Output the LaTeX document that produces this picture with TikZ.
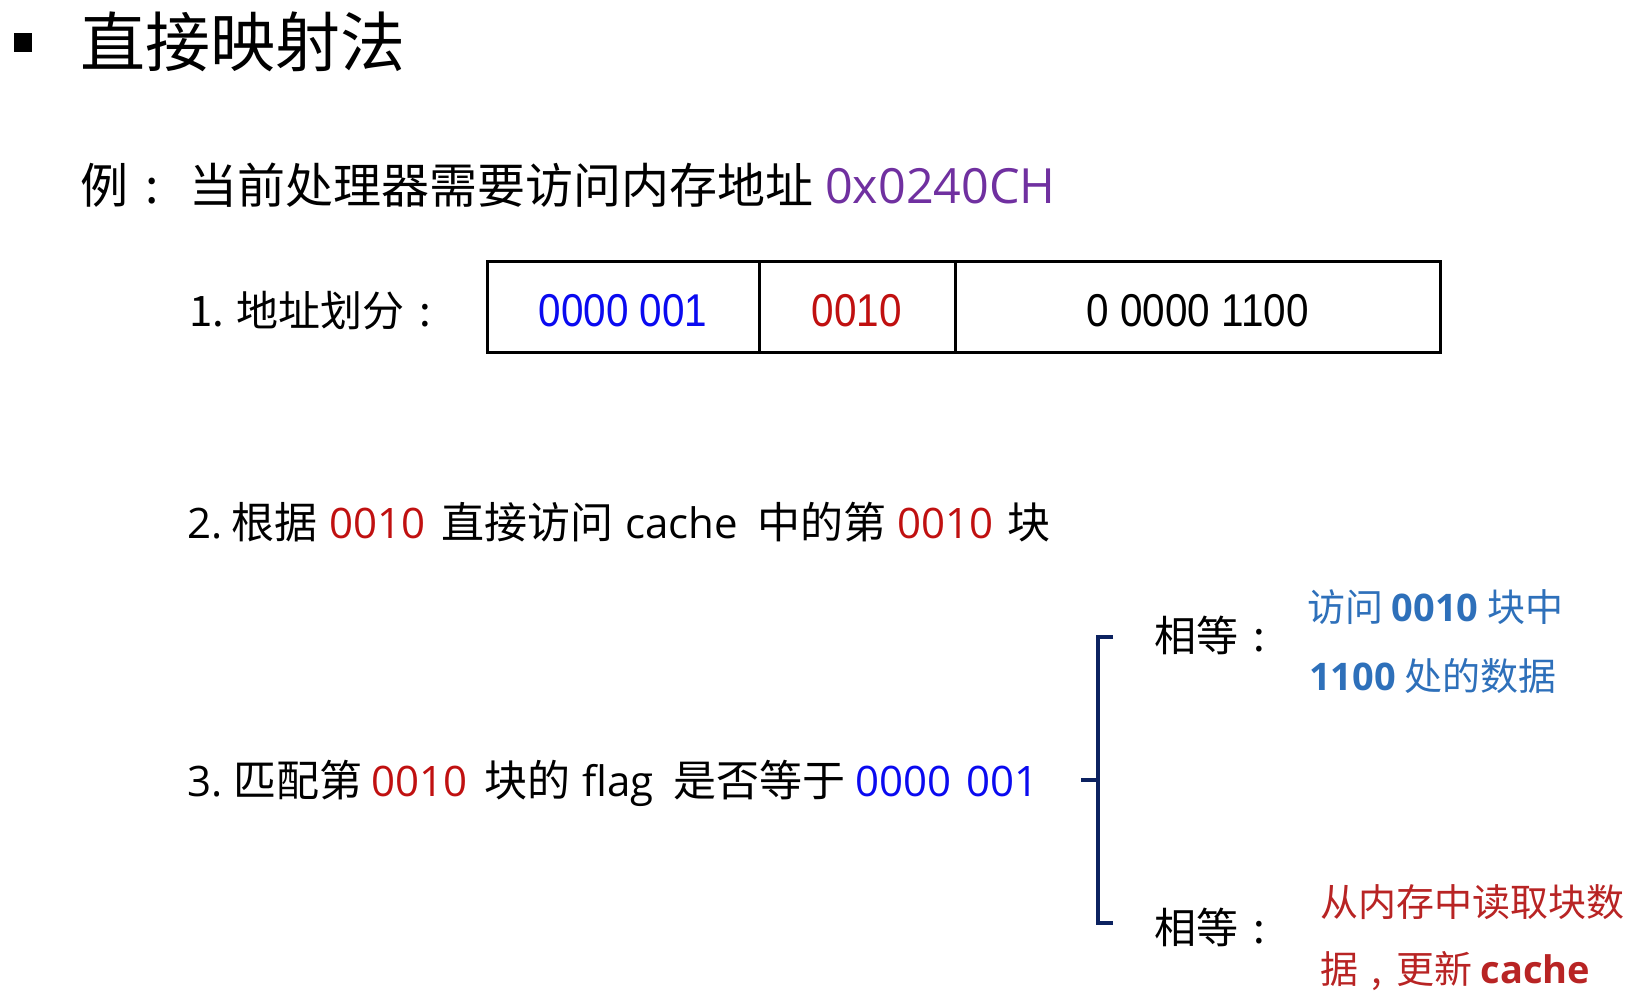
\documentclass[tikz,border=0pt]{standalone}
\usepackage{fontspec}
\setmainfont{Noto Sans CJK SC}
\newfontfamily\numfont[FakeStretch=0.88]{Liberation Sans}
\newfontfamily\latf{Open Sans}
\definecolor{cblue}{RGB}{10,10,240}
\definecolor{cred}{RGB}{192,16,16}
\definecolor{cpurple}{RGB}{112,48,160}
\definecolor{rblue}{RGB}{46,112,186}
\definecolor{rred}{RGB}{184,36,36}
\definecolor{navy}{RGB}{12,34,96}
\newcommand{\fsz}[1]{\fontsize{#1}{#1}\selectfont}
\newcommand{\ccolon}{\makebox[1em][c]{:}}
\newcommand{\ccomma}{\makebox[1em][c]{,}}
\begin{document}
\begin{tikzpicture}[x=1pt,y=-1pt,
  txt/.style={anchor=west,inner sep=0pt},
  bt/.style={anchor=base west,inner sep=0pt},
  cj/.style={bt,font=\fsz{43}},
  la/.style={bt,font=\latf\fsz{42}},
  cell/.style={draw,line width=3pt,outer sep=0pt,minimum height=90pt,inner sep=0pt,anchor=west,
    text height=39pt,text depth=0pt,font=\numfont\fsz{46}},
  brace/.style={draw=navy,line width=3.5pt}]
\useasboundingbox (0,0) rectangle (1648,1008);
\fill (14,33) rectangle (32,52);
\node[txt] (title) at (80,42) {\fsz{65}直接映射法};
% line 1
\node[bt,font=\fsz{48}] (ex) at (80,204) {例\ccolon};
\node[bt,font=\fsz{48}] (exa) at (189,204) {当前处理器需要访问内存地址};
\node[bt,font=\latf\fsz{48.5},text=cpurple] (exb) at (825,204) {0x0240CH};
% address split
\node[txt] (s1) at (189,311) {\fsz{42}1. 地址划分\ccolon};
\node[cell,minimum width=272pt,text=cblue] (c1) at (487,307) {0000 001};
\node[cell,minimum width=196pt,text=cred] (c2) at (c1.east) {0010};
\node[cell,minimum width=485pt] (c3) at (c2.east) {0 0000 1100};
% line 2
\node[la] (s2a) at (187,538) {2.};
\node[cj] (s2b) at (231,538) {根据};
\node[la,text=cred] (s2c) at (329,538) {0010};
\node[cj] (s2d) at (441,538) {直接访问};
\node[la] (s2e) at (625,538) {cache};
\node[cj] (s2f) at (757,538) {中的第};
\node[la,text=cred] (s2g) at (897,538) {0010};
\node[cj] (s2h) at (1007,538) {块};
% line 3
\node[la] (s3a) at (187,796) {3.};
\node[cj] (s3b) at (233,796) {匹配第};
\node[la,text=cred] (s3c) at (371,796) {0010};
\node[cj] (s3d) at (484,796) {块的};
\node[la] (s3e) at (582,796) {flag};
\node[cj] (s3f) at (673,796) {是否等于};
\node[la,text=cblue] (s3g) at (855,796) {0000\hspace{0.35em}001};
% bracket
\coordinate (bt) at (1113,637);
\coordinate (bm) at (1081,780);
\coordinate (bb) at (1113,923);
\draw[brace] (bt) -- (1098,637) -- (1098,923) -- (bb);
\draw[brace] (bm) -- (1098,780);
% outcomes
\node[bt,font=\fsz{42}] (eq1) at (1154,651) {相等\ccolon};
\node[bt,font=\fsz{38},text=rblue] (r1) at (1307,621) {访问 {\latf\bfseries 0010} 块中};
\node[bt,font=\fsz{38},text=rblue] (r2) at (1309,690) {{\latf\bfseries 1100} 处的数据};
\node[bt,font=\fsz{42}] (eq2) at (1154,943) {相等\ccolon};
\node[bt,font=\fsz{38},text=rred] (r3) at (1320,916) {从内存中读取块数};
\node[bt,font=\fsz{38},text=rred] (r4) at (1320,983) {据\ccomma 更新 {\latf\bfseries cache}};
\end{tikzpicture}
\end{document}
